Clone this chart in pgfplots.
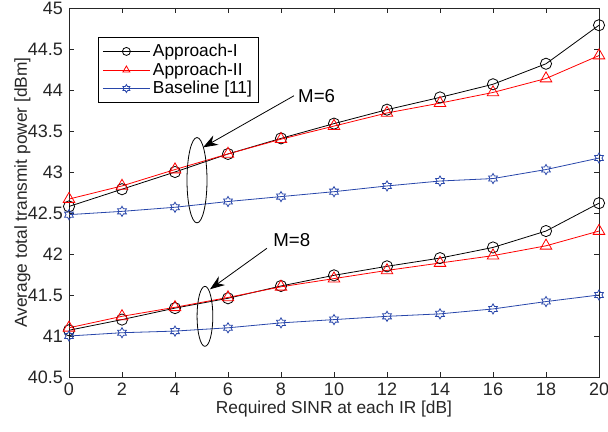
\documentclass[border=0pt]{standalone}
\usepackage{fontspec}
\setmainfont{Liberation Sans}
\usepackage{pgfplots}
\pgfplotsset{compat=1.18}
\usetikzlibrary{arrows.meta}

\definecolor{mblue}{RGB}{40,70,170}
\definecolor{axgray}{RGB}{38,38,38}

\pgfdeclareplotmark{hexagram}{%
  \pgfpathmoveto{\pgfpointpolar{90}{\pgfplotmarksize}}%
  \pgfpathlineto{\pgfpointpolar{120}{0.577\pgfplotmarksize}}%
  \pgfpathlineto{\pgfpointpolar{150}{\pgfplotmarksize}}%
  \pgfpathlineto{\pgfpointpolar{180}{0.577\pgfplotmarksize}}%
  \pgfpathlineto{\pgfpointpolar{210}{\pgfplotmarksize}}%
  \pgfpathlineto{\pgfpointpolar{240}{0.577\pgfplotmarksize}}%
  \pgfpathlineto{\pgfpointpolar{270}{\pgfplotmarksize}}%
  \pgfpathlineto{\pgfpointpolar{300}{0.577\pgfplotmarksize}}%
  \pgfpathlineto{\pgfpointpolar{330}{\pgfplotmarksize}}%
  \pgfpathlineto{\pgfpointpolar{0}{0.577\pgfplotmarksize}}%
  \pgfpathlineto{\pgfpointpolar{30}{\pgfplotmarksize}}%
  \pgfpathlineto{\pgfpointpolar{60}{0.577\pgfplotmarksize}}%
  \pgfpathclose
  \pgfusepathqstroke
}

\begin{document}
\begin{tikzpicture}
\begin{axis}[
  scale only axis,
  width=397.5pt, height=276.75pt,
  xmin=0, xmax=20, ymin=40.5, ymax=45,
  xtick={0,2,...,20},
  ytick={40.5,41,...,45},
  tick align=inside,
  major tick length=4pt,
  axis line style={axgray, line width=0.5pt},
  tick style={axgray, line width=0.5pt},
  ticklabel style={font=\fontsize{13.5}{15}\selectfont, text=axgray},
  label style={font=\fontsize{13}{15}\selectfont, text=axgray},
  /pgf/number format/assume math mode=true,
  yticklabel style={/pgf/number format/fixed, xshift=-1pt},
  xticklabel style={yshift=-1pt},
  xlabel={Required SINR at each IR [dB]},
  ylabel={Average total transmit power [dBm]},
  xlabel style={at={([yshift=-24pt]axis description cs:0.5,0)}, anchor=center},
  ylabel style={at={([xshift=-35pt]axis description cs:0,0.5)}, anchor=center},
  legend style={at={(0.055,0.921)}, anchor=north west, draw=black, line width=0.5pt,
    font=\fontsize{13}{15}\selectfont, cells={anchor=west}, inner sep=3pt,
    row sep=-1pt},
  legend cell align=left,
  legend image post style={mark size=3pt},
  legend image code/.code={%
    \draw[mark repeat=2, mark phase=2] plot coordinates {(0cm,0cm) (0.62cm,0cm) (1.24cm,0cm)};},
]
% M = 6
\addplot[black, line width=0.6pt, mark=o, mark size=4.2pt] coordinates {
(0,42.58) (2,42.79) (4,43.00) (6,43.22) (8,43.41) (10,43.59)
(12,43.76) (14,43.91) (16,44.07) (18,44.32) (20,44.79)};
\addlegendentry{Approach-I}
\addplot[red, line width=0.6pt, mark=triangle, mark size=5pt] coordinates {
(0,42.67) (2,42.83) (4,43.03) (6,43.22) (8,43.40) (10,43.56)
(12,43.72) (14,43.84) (16,43.97) (18,44.14) (20,44.42)};
\addlegendentry{Approach-II}
\addplot[mblue, line width=0.6pt, mark=hexagram, mark size=3.8pt] coordinates {
(0,42.48) (2,42.52) (4,42.57) (6,42.64) (8,42.70) (10,42.76)
(12,42.83) (14,42.89) (16,42.92) (18,43.03) (20,43.17)};
\addlegendentry{Baseline [11]}
% M = 8
\addplot[black, line width=0.6pt, mark=o, mark size=4.2pt, forget plot] coordinates {
(0,41.07) (2,41.20) (4,41.34) (6,41.46) (8,41.61) (10,41.74)
(12,41.85) (14,41.95) (16,42.08) (18,42.28) (20,42.62)};
\addplot[red, line width=0.6pt, mark=triangle, mark size=5pt, forget plot] coordinates {
(0,41.10) (2,41.24) (4,41.35) (6,41.47) (8,41.60) (10,41.70)
(12,41.80) (14,41.89) (16,41.98) (18,42.10) (20,42.28)};
\addplot[mblue, line width=0.6pt, mark=hexagram, mark size=3.8pt, forget plot] coordinates {
(0,41.00) (2,41.04) (4,41.06) (6,41.10) (8,41.16) (10,41.20)
(12,41.24) (14,41.27) (16,41.33) (18,41.42) (20,41.50)};

% annotations
\draw[black, line width=0.6pt] (axis cs:4.83,42.90) ellipse [x radius=7.5pt, y radius=32pt];
\draw[black, line width=0.6pt] (axis cs:5.13,41.24) ellipse [x radius=5.9pt, y radius=22.5pt];
\draw[black, line width=0.6pt, -{Stealth[length=11pt,width=8pt]}] (axis cs:8.49,43.93) -- (axis cs:5.06,43.30);
\draw[black, line width=0.6pt, -{Stealth[length=11pt,width=8pt]}] (axis cs:7.47,42.07) -- (axis cs:5.32,41.57);
\node[anchor=west, font=\fontsize{14}{16}\selectfont, inner sep=0pt] at (axis cs:8.64,43.92) {M=6};
\node[anchor=west, font=\fontsize{14}{16}\selectfont, inner sep=0pt] at (axis cs:7.70,42.17) {M=8};
\end{axis}
\pgfresetboundingbox
\path (current axis.south west) ++(-51.75pt,-40.5pt) coordinate (bbA);
\path (current axis.north east) ++(6.75pt,6pt) coordinate (bbB);
\useasboundingbox (bbA) rectangle (bbB);
\end{tikzpicture}
\end{document}
